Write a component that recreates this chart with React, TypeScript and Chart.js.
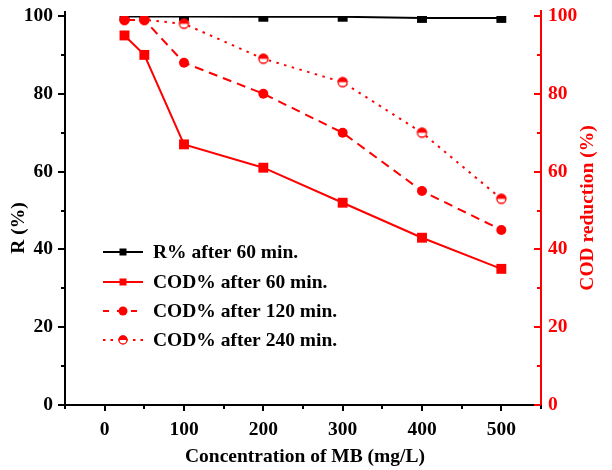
import React, { useEffect, useRef } from 'react';
import { Chart, registerables } from 'chart.js';

Chart.register(...registerables);

// MB concentration (mg/L)
const concentrations = [25, 50, 100, 200, 300, 400, 500];
// Dye removal R% after 60 min (left axis)
const removal60 = [99.9, 99.9, 99.9, 99.8, 99.8, 99.5, 99.5];
// COD reduction (%) at three contact times (right axis)
const cod60 = [95, 90, 67, 61, 52, 43, 35];
const cod120 = [99, 99, 88, 80, 70, 55, 45];
const cod240 = [99, 99, 98, 89, 83, 70, 53];

const seriesLabels = [
  'R% after 60 min.',
  'COD% after 60 min.',
  'COD% after 120 min.',
  'COD% after 240 min.',
];

const xTicks = [-50, 0, 50, 100, 150, 200, 250, 300, 350, 400, 450, 500, 550];
const xLabelTicks = [0, 100, 200, 300, 400, 500];
const yTicks = [0, 10, 20, 30, 40, 50, 60, 70, 80, 90, 100];
const yLabelTicks = [0, 20, 40, 60, 80, 100];

const xTitle = 'Concentration of MB (mg/L)';
const yTitle = 'R (%)';
const y2Title = 'COD reduction (%)';

const RED = '#ff0000';
const BLACK = '#000000';
const FONT_FAMILY = "'Liberation Serif', 'Times New Roman', serif";
const FONT_SIZE = 19.5;
const BOLD = `bold ${FONT_SIZE}px ${FONT_FAMILY}`;

function halfDisc(r: number, color: string): HTMLCanvasElement {
  const s = Math.ceil(r * 2 + 3);
  const c = document.createElement('canvas');
  c.width = s;
  c.height = s;
  const g = c.getContext('2d')!;
  const cx = s / 2;
  g.fillStyle = '#ffffff';
  g.beginPath();
  g.arc(cx, cx, r, 0, Math.PI * 2);
  g.fill();
  g.fillStyle = color;
  g.beginPath();
  g.arc(cx, cx, r, Math.PI, 0);
  g.closePath();
  g.fill();
  g.strokeStyle = color;
  g.lineWidth = 1.3;
  g.beginPath();
  g.arc(cx, cx, r - 0.5, 0, Math.PI * 2);
  g.stroke();
  return c;
}

const toPoints = (ys: number[]) => concentrations.map((x, i) => ({ x, y: ys[i] }));

export default function App() {
  const canvasRef = useRef<HTMLCanvasElement | null>(null);

  useEffect(() => {
    document.body.style.margin = '0';
    const canvas = canvasRef.current;
    if (!canvas) return;

    const plotHalfDisc = halfDisc(5, RED);
    const legendHalfDisc = halfDisc(4.5, RED);

    // Tick marks, axis lines, axis titles and the in-plot legend
    const decor = {
      id: 'decor',
      afterDraw(chart: any) {
        const { ctx, chartArea } = chart;
        const xs = chart.scales.x;
        const ys = chart.scales.y;
        const y2 = chart.scales.y2;
        const { left, right, top, bottom } = chartArea;
        ctx.save();
        ctx.lineCap = 'butt';

        // axis lines
        ctx.lineWidth = 2;
        ctx.strokeStyle = BLACK;
        ctx.beginPath();
        ctx.moveTo(left, top - 5);
        ctx.lineTo(left, bottom);
        ctx.moveTo(left - 1, bottom);
        ctx.lineTo(right, bottom);
        ctx.stroke();
        ctx.strokeStyle = RED;
        ctx.beginPath();
        ctx.moveTo(right, top - 6);
        ctx.lineTo(right, bottom + 1);
        ctx.stroke();

        // x ticks (outward, down)
        ctx.strokeStyle = BLACK;
        ctx.lineWidth = 2;
        ctx.beginPath();
        xTicks.forEach((v) => {
          const px = Math.round(xs.getPixelForValue(v));
          const len = xLabelTicks.includes(v) ? 6 : 4;
          ctx.moveTo(px, bottom);
          ctx.lineTo(px, bottom + len);
        });
        ctx.stroke();

        // left y ticks (outward)
        ctx.beginPath();
        yTicks.forEach((v) => {
          const py = Math.round(ys.getPixelForValue(v));
          const len = yLabelTicks.includes(v) ? 7 : 4;
          ctx.moveTo(left, py);
          ctx.lineTo(left - len, py);
        });
        ctx.stroke();

        // right y ticks (inward)
        ctx.strokeStyle = RED;
        ctx.beginPath();
        yTicks.forEach((v) => {
          const py = Math.round(y2.getPixelForValue(v));
          const len = yLabelTicks.includes(v) ? 7 : 4;
          ctx.moveTo(right, py);
          ctx.lineTo(right - len, py);
        });
        ctx.stroke();

        // axis titles
        ctx.font = BOLD;
        ctx.textAlign = 'center';
        ctx.textBaseline = 'middle';
        ctx.fillStyle = BLACK;
        ctx.fillText(xTitle, (left + right) / 2 + 2, 457);

        ctx.save();
        ctx.translate(19, 228);
        ctx.rotate(-Math.PI / 2);
        ctx.fillText(yTitle, 0, 0);
        ctx.restore();

        ctx.save();
        ctx.fillStyle = RED;
        ctx.translate(588, 208);
        ctx.rotate(-Math.PI / 2);
        ctx.fillText(y2Title, 0, 0);
        ctx.restore();

        // legend
        const rowY = [252, 282, 311, 340];
        const x0 = 103;
        const x1 = 143;
        const mx = 123;
        const dashes = [[], [], [6, 8], [2.5, 5]];
        const colors = [BLACK, RED, RED, RED];
        rowY.forEach((ry, i) => {
          ctx.strokeStyle = colors[i];
          ctx.lineWidth = 2;
          ctx.setLineDash(dashes[i]);
          ctx.beginPath();
          ctx.moveTo(x0, ry);
          ctx.lineTo(x1, ry);
          ctx.stroke();
          ctx.setLineDash([]);
          ctx.fillStyle = colors[i];
          if (i < 2) {
            ctx.fillRect(mx - 3.5, ry - 3.5, 7, 7);
          } else if (i === 2) {
            ctx.beginPath();
            ctx.arc(mx, ry, 4.5, 0, Math.PI * 2);
            ctx.fill();
          } else {
            ctx.drawImage(
              legendHalfDisc,
              mx - legendHalfDisc.width / 2,
              ry - legendHalfDisc.height / 2
            );
          }
          ctx.fillStyle = BLACK;
          ctx.textAlign = 'left';
          ctx.textBaseline = 'middle';
          ctx.font = BOLD;
          ctx.fillText(seriesLabels[i], 153, ry + 1);
        });

        ctx.restore();
      },
    };

    const tickFont = { family: FONT_FAMILY, size: FONT_SIZE, weight: 'bold' };

    const chart = new Chart(canvas, {
      type: 'line',
      data: {
        datasets: [
          {
            label: seriesLabels[0],
            data: toPoints(removal60),
            yAxisID: 'y',
            order: 4,
            borderColor: BLACK,
            backgroundColor: BLACK,
            borderWidth: 2,
            pointStyle: 'rect',
            pointRadius: 7,
            pointBorderWidth: 0,
            pointBackgroundColor: BLACK,
            tension: 0,
          },
          {
            label: seriesLabels[1],
            data: toPoints(cod60),
            yAxisID: 'y2',
            order: 1,
            borderColor: RED,
            backgroundColor: RED,
            borderWidth: 2,
            pointStyle: 'rect',
            pointRadius: 7,
            pointBorderWidth: 0,
            pointBackgroundColor: RED,
            tension: 0,
          },
          {
            label: seriesLabels[2],
            data: toPoints(cod120),
            yAxisID: 'y2',
            order: 2,
            borderColor: RED,
            backgroundColor: RED,
            borderWidth: 2,
            borderDash: [9, 6],
            pointStyle: 'circle',
            pointRadius: 5,
            pointBorderWidth: 0,
            pointBackgroundColor: RED,
            tension: 0,
          },
          {
            label: seriesLabels[3],
            data: toPoints(cod240),
            yAxisID: 'y2',
            order: 3,
            borderColor: RED,
            backgroundColor: RED,
            borderWidth: 2,
            borderDash: [2.5, 5.5],
            pointStyle: plotHalfDisc as any,
            pointRadius: 5,
            tension: 0,
          },
        ],
      },
      options: {
        animation: false,
        responsive: false,
        maintainAspectRatio: false,
        layout: { padding: { top: 16, left: 0, right: 0, bottom: 0 } },
        plugins: {
          legend: { display: false },
          tooltip: { enabled: false },
        },
        scales: {
          x: {
            type: 'linear',
            min: -50,
            max: 550,
            grid: { display: false, drawTicks: false },
            border: { display: false },
            afterBuildTicks: (s: any) => {
              s.ticks = xTicks.map((value) => ({ value }));
            },
            afterFit: (s: any) => {
              s.height = 65;
              s.paddingLeft = 0;
              s.paddingRight = 0;
            },
            ticks: {
              autoSkip: false,
              maxRotation: 0,
              padding: 13,
              color: BLACK,
              font: tickFont,
              callback: (v: any) => (xLabelTicks.includes(Number(v)) ? String(v) : ''),
            },
          },
          y: {
            type: 'linear',
            position: 'left',
            min: 0,
            max: 100,
            grid: { display: false, drawTicks: false },
            border: { display: false },
            afterBuildTicks: (s: any) => {
              s.ticks = yTicks.map((value) => ({ value }));
            },
            afterFit: (s: any) => {
              s.width = 65;
              s.paddingTop = 0;
              s.paddingBottom = 0;
            },
            ticks: {
              autoSkip: false,
              padding: 12,
              color: BLACK,
              font: tickFont,
              callback: (v: any) => (yLabelTicks.includes(Number(v)) ? String(v) : ''),
            },
          },
          y2: {
            type: 'linear',
            position: 'right',
            min: 0,
            max: 100,
            grid: { display: false, drawTicks: false },
            border: { display: false },
            afterBuildTicks: (s: any) => {
              s.ticks = yTicks.map((value) => ({ value }));
            },
            afterFit: (s: any) => {
              s.width = 71;
              s.paddingTop = 0;
              s.paddingBottom = 0;
            },
            ticks: {
              autoSkip: false,
              padding: 7,
              color: RED,
              font: tickFont,
              callback: (v: any) => (yLabelTicks.includes(Number(v)) ? String(v) : ''),
            },
          },
        },
      },
      plugins: [decor],
    } as any);

    return () => chart.destroy();
  }, []);

  return (
    <div style={{ width: 612, height: 470, background: '#ffffff' }}>
      <canvas ref={canvasRef} width={612} height={470} style={{ width: 612, height: 470, display: 'block' }} />
    </div>
  );
}
